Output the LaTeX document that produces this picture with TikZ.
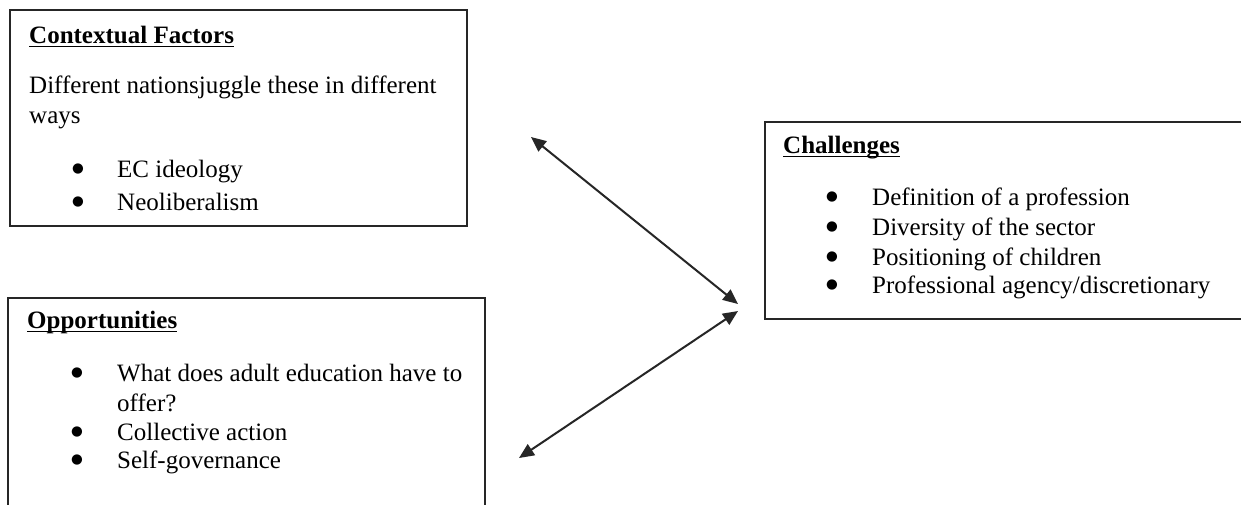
\documentclass[tikz,border=0pt]{standalone}
\usepackage{fontspec}
\setmainfont{Liberation Serif}
\newfontfamily\symfont{DejaVu Sans}
\usetikzlibrary{arrows.meta}
\newcommand\hdul[1]{\setbox0\hbox{\bfseries #1}\rlap{\rule[-4pt]{\wd0}{1.4pt}}\box0}
\begin{document}
\begin{tikzpicture}[x=1pt,y=-1pt,
  frame/.style={draw=black!85, line width=1.8pt},
  txt/.style={anchor=base west, inner sep=0pt, font=\fontsize{25}{30}\selectfont, text=black},
  bul/.style={anchor=base, inner sep=0pt, font=\symfont\fontsize{13.5}{15}\selectfont, text=black},
  link/.style={draw=black!85, line width=2pt, {Triangle[length=15pt,width=13pt]}-{Triangle[length=15pt,width=13pt]}}]
\useasboundingbox (0,0) rectangle (1241,504);
\fill[white] (0,0) rectangle (1241,504);
% boxes
\draw[frame] (10,10) rectangle (467,226);
\draw[frame] (8,298) rectangle (485,512);
\draw[frame] (765,122) rectangle (1252,319);
% box 1
\node[txt] (h1) at (29,43) {\hdul{Contextual Factors}};
\node[txt] (t1a) at (29,93) {Different nationsjuggle these in different};
\node[txt] (t1b) at (29,123) {ways};
\node[bul] (b1a) at (78,172) {●};
\node[txt] (t1c) at (117,177) {EC ideology};
\node[bul] (b1b) at (78,205) {●};
\node[txt] (t1d) at (117,210) {Neoliberalism};
% box 2
\node[txt] (h2) at (27,328) {\hdul{Opportunities}};
\node[bul] (b2a) at (77,376) {●};
\node[txt] (t2a) at (117,381) {What does adult education have to};
\node[txt] (t2b) at (117,411) {offer?};
\node[bul] (b2c) at (77,435) {●};
\node[txt] (t2c) at (117,440) {Collective action};
\node[bul] (b2d) at (77,463) {●};
\node[txt] (t2d) at (117,468) {Self-governance};
% box 3
\node[txt] (h3) at (783,153) {\hdul{Challenges}};
\node[bul] (b3a) at (832,200) {●};
\node[txt] (t3a) at (872,205) {Definition of a profession};
\node[bul] (b3b) at (832,230) {●};
\node[txt] (t3b) at (872,235) {Diversity of the sector};
\node[bul] (b3c) at (832,260) {●};
\node[txt] (t3c) at (872,265) {Positioning of children};
\node[bul] (b3d) at (832,288) {●};
\node[txt] (t3d) at (872,293) {Professional agency/discretionary};
% arrows
\coordinate (a1) at (531,137);
\coordinate (a2) at (738,304);
\coordinate (a3) at (738,311);
\coordinate (a4) at (519,458);
\draw[link] (a1) -- (a2);
\draw[link] (a4) -- (a3);
\end{tikzpicture}
\end{document}
